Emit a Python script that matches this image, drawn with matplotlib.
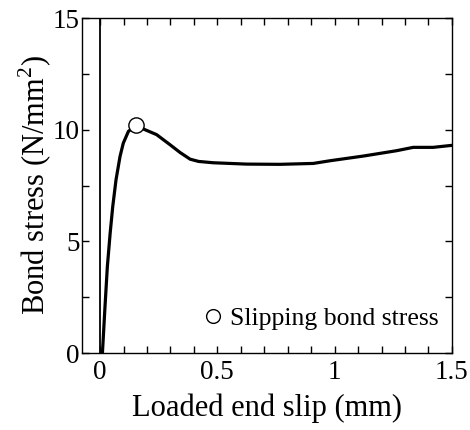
import matplotlib.pyplot as plt
from matplotlib.ticker import MultipleLocator

plt.rcParams['font.family'] = ['Liberation Serif', 'DejaVu Serif']
plt.rcParams['mathtext.fontset'] = 'custom'
plt.rcParams['mathtext.rm'] = 'Liberation Serif'

# bond stress - slip curve
slip = [0.010, 0.021, 0.031, 0.043, 0.054, 0.068, 0.085, 0.099, 0.121, 0.149,
        0.185, 0.241, 0.298, 0.341, 0.384, 0.420, 0.483, 0.625, 0.767, 0.909,
        0.980, 1.122, 1.264, 1.335, 1.420, 1.500]
stress = [0.0, 2.08, 3.87, 5.37, 6.56, 7.76, 8.80, 9.40, 9.93, 10.15,
          10.03, 9.78, 9.33, 8.98, 8.68, 8.58, 8.52, 8.46, 8.45, 8.49,
          8.61, 8.82, 9.06, 9.21, 9.21, 9.30]
peak_slip = [0.152]
peak_stress = [10.19]

fig = plt.figure(figsize=(4.7, 4.3), dpi=100)
ax = fig.add_axes([0.1755, 0.179, 0.786, 0.779])

ax.axvline(0, color='black', lw=1.3, zorder=1)
ax.plot(slip, stress, color='black', lw=2.3, zorder=2,
        solid_joinstyle='round', solid_capstyle='round')
ax.plot(peak_slip, peak_stress, 'o', ms=11, mfc='white', mec='black', mew=1.0, zorder=3,
        label='Slipping bond stress')

ax.set_xlim(-0.075, 1.5)
ax.set_ylim(0, 15)
ax.xaxis.set_major_locator(MultipleLocator(0.5))
ax.xaxis.set_minor_locator(MultipleLocator(0.1))
ax.yaxis.set_major_locator(MultipleLocator(5))
ax.yaxis.set_minor_locator(MultipleLocator(2.5))
ax.set_xticks([0, 0.5, 1, 1.5])
ax.set_xticklabels(['0', '0.5', '1', '1.5'])
ax.tick_params(which='both', direction='in', top=True, right=True, labelsize=19.5,
               width=1, length=5)
ax.tick_params(axis='x', pad=5)
ax.tick_params(axis='y', pad=2)
for s in ax.spines.values():
    s.set_linewidth(1.0)

ax.set_xlabel('Loaded end slip (mm)', fontsize=22, labelpad=6)
ax.set_ylabel('Bond stress (N/mm$^2$)', fontsize=22, labelpad=-1)

ax.legend(loc='lower right', bbox_to_anchor=(1.028, 0.0), frameon=False, fontsize=18.5,
          handletextpad=0.1, markerscale=0.9, borderaxespad=0.5, handlelength=1.2)

fig.savefig('out.png', dpi=100)
